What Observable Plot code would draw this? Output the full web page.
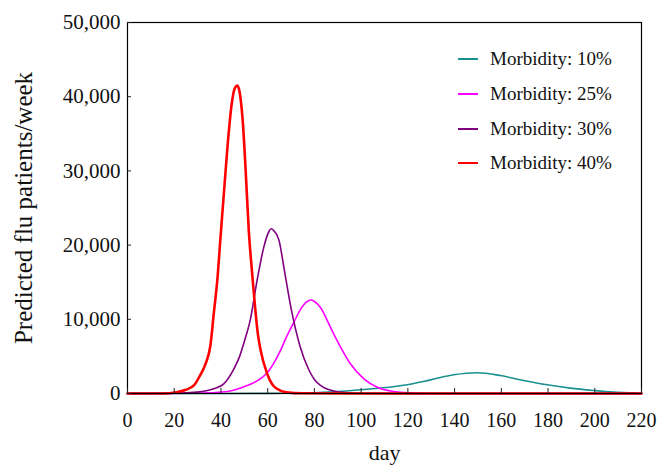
<!DOCTYPE html>
<html><head><meta charset="utf-8">
<script src="https://cdn.jsdelivr.net/npm/d3@7"></script>
<script src="https://cdn.jsdelivr.net/npm/@observablehq/plot@0.6"></script>
<style>
html,body{margin:0;padding:0;background:#fff;}
#wrap{position:relative;width:659px;height:465px;font-family:"Liberation Serif","Times New Roman",serif;}
#legend{position:absolute;left:458px;top:42px;}
.row{display:flex;align-items:center;height:34.7px;font-size:19px;color:#111;white-space:nowrap;}
.row svg{margin-right:12px;}
</style></head><body>
<div id="wrap"><div id="legend"></div></div>
<script>
const xTicks = [0, 20, 40, 60, 80, 100, 120, 140, 160, 180, 200, 220];
const yTicks = [0, 10000, 20000, 30000, 40000, 50000];
const xLabel = "day";
const yLabel = "Predicted flu patients/week";

const seriesNames = ["Morbidity: 10%", "Morbidity: 25%", "Morbidity: 30%", "Morbidity: 40%"];
const seriesColors = ["#1a9090", "#ff00ff", "#800080", "#ff0000"];
const seriesWidths = [1.6, 1.6, 1.6, 2.6];

// Morbidity 10%
const days10 = [0, 40, 60, 79.7, 99.7, 119.7, 129.7, 139.7, 149.7, 159.6, 169.6, 179.6, 189.6, 199.6, 208, 218];
const vals10 = [0, 0, 20, 100, 500, 1170, 1840, 2520, 2790, 2420, 1750, 1170, 720, 400, 180, 50];
// Morbidity 25%
const days25 = [0, 30, 42.7, 51.2, 56, 59.8, 63, 65.5, 68, 71.2, 74, 76.5, 78.6, 80, 82.6, 86.9, 91.2, 95.4, 101.2, 106.9, 114, 120, 130, 220];
const vals25 = [0, 30, 270, 1080, 1800, 2800, 4300, 5800, 7600, 9600, 11300, 12300, 12600, 12400, 11600, 8900, 6250, 4000, 1980, 850, 270, 80, 0, 0];
// Morbidity 30%
const days30 = [0, 20, 29.8, 36.9, 41.2, 45.5, 48, 50, 52.6, 55.5, 58.4, 60.5, 61.5, 62.5, 64.8, 67.2, 70, 74, 77.6, 80, 82.6, 88.3, 93, 100, 120, 220];
const vals30 = [0, 30, 180, 630, 1300, 3300, 5000, 7000, 10000, 15300, 19800, 21800, 22200, 22000, 20700, 16500, 11500, 6200, 3200, 1900, 1100, 350, 120, 30, 0, 0];
// Morbidity 40%
const days40 = [0, 15, 21, 25, 28.4, 31, 33.4, 35.5, 36.9, 38.5, 39.8, 41.5, 43, 44.5, 46, 47, 48, 49.3, 50.5, 51.9, 53.4, 54.5, 55.8, 57, 59.8, 62, 64, 68, 75, 100, 220];
const vals40 = [0, 0, 180, 500, 1080, 2400, 4000, 6500, 10700, 15500, 21000, 28000, 34000, 38800, 41200, 41500, 40600, 36800, 30500, 22000, 16000, 12000, 8000, 5800, 2650, 1200, 630, 150, 30, 0, 0];

const seriesDays = [days10, days25, days30, days40];
const seriesVals = [vals10, vals25, vals30, vals40];

const lines = seriesNames.map((name, i) => {
  const rows = seriesDays[i].map((d, j) => ({day: d, value: seriesVals[i][j], series: name}));
  return Plot.line(rows, {x: "day", y: "value", stroke: seriesColors[i], strokeWidth: seriesWidths[i], curve: "monotone-x"});
});

const fmt = d3.format(",");
const chart = Plot.plot({
  width: 659,
  height: 465,
  marginLeft: 127,
  marginRight: 18,
  marginTop: 22,
  marginBottom: 72,
  style: {fontFamily: '"Liberation Serif","Times New Roman",serif', fontSize: "20px", background: "#fff", color: "#111"},
  x: {domain: [0, 220]},
  y: {domain: [0, 50000]},
  marks: [
    ...lines,
    Plot.frame({stroke: "#000", strokeWidth: 1.2}),
    Plot.axisX(xTicks, {tickSize: 5, dy: -5, fill: "none", stroke: "#222", label: null}),
    Plot.axisX(xTicks, {tickSize: 0, tickPadding: 19, tickFormat: d => String(d), fontSize: 20, label: null}),
    Plot.axisY(yTicks, {tickSize: 4, dx: 4, fill: "none", stroke: "#222", label: null}),
    Plot.axisY(yTicks, {tickSize: 0, tickPadding: 7, tickFormat: fmt, fontSize: 21, label: null}),
    Plot.text([xLabel], {frameAnchor: "bottom", dy: 59, lineAnchor: "middle", fontSize: 22, fill: "#111"}),
    Plot.text([yLabel], {frameAnchor: "left", dx: -104, rotate: -90, lineAnchor: "middle", textAnchor: "middle", fontSize: 25, fill: "#111"})
  ]
});
document.getElementById("wrap").prepend(chart);

const legend = document.getElementById("legend");
seriesNames.forEach((name, i) => {
  const row = document.createElement("div");
  row.className = "row";
  row.innerHTML = `<svg width="20" height="6"><line x1="0" x2="20" y1="3" y2="3" stroke="${seriesColors[i]}" stroke-width="2"/></svg><span>${name}</span>`;
  legend.appendChild(row);
});
</script>
</body></html>
